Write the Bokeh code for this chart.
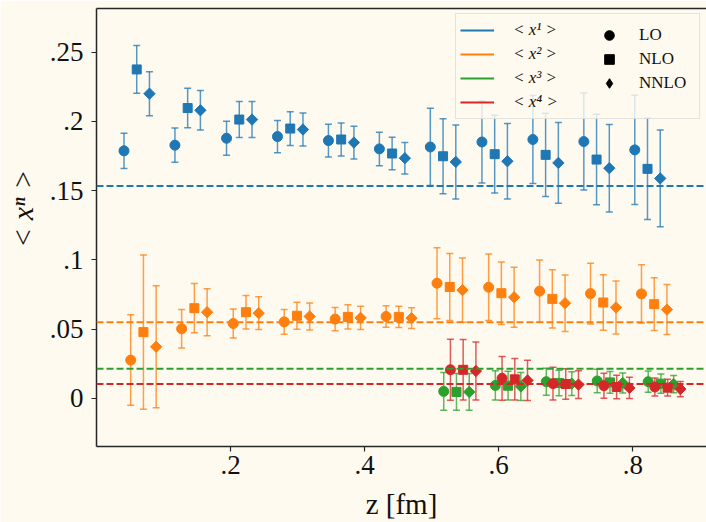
from bokeh.plotting import figure
from bokeh.models import (ColumnDataSource, Whisker, TeeHead, Span, Legend, LegendItem,
                          FixedTicker, LinearAxis, Range1d)
from bokeh.embed import file_html
from bokeh.resources import INLINE
import math

# separation z [fm] of the LO point of each group (first moment)
z_lo = [0.041, 0.117, 0.194, 0.270, 0.346, 0.422, 0.498, 0.575, 0.651, 0.727, 0.803]
# the third and fourth moments are only available from z ~ 0.5 fm
z_hi = z_lo[6:]

# <x^1>
x1_lo = [0.1788, 0.1829, 0.1879, 0.1891, 0.1862, 0.1802, 0.1816, 0.1852, 0.1870, 0.1855, 0.1795]
x1_lo_err = [0.0128, 0.0124, 0.0122, 0.0117, 0.0119, 0.0121, 0.0279, 0.0296, 0.0317, 0.0350, 0.0395]
x1_nlo = [0.2376, 0.2097, 0.2014, 0.1949, 0.1870, 0.1769, 0.1749, 0.1764, 0.1759, 0.1725, 0.1658]
x1_nlo_err = [0.0172, 0.0143, 0.0130, 0.0122, 0.0119, 0.0118, 0.0270, 0.0281, 0.0300, 0.0327, 0.0366]
x1_nnlo = [0.2201, 0.2081, 0.2014, 0.1942, 0.1848, 0.1735, 0.1708, 0.1713, 0.1701, 0.1663, 0.1589]
x1_nnlo_err = [0.0159, 0.0142, 0.0130, 0.0119, 0.0118, 0.0114, 0.0267, 0.0273, 0.0291, 0.0316, 0.0349]

# <x^2>
x2_lo = [0.0277, 0.0503, 0.0541, 0.0553, 0.0573, 0.0592, 0.0832, 0.0803, 0.0775, 0.0757, 0.0755]
x2_lo_err = [0.0327, 0.0139, 0.0105, 0.0090, 0.0084, 0.0077, 0.0256, 0.0240, 0.0224, 0.0220, 0.0211]
x2_nlo = [0.0479, 0.0652, 0.0623, 0.0597, 0.0589, 0.0589, 0.0805, 0.0760, 0.0719, 0.0693, 0.0681]
x2_nlo_err = [0.0557, 0.0178, 0.0121, 0.0098, 0.0088, 0.0077, 0.0242, 0.0226, 0.0211, 0.0200, 0.0190]
x2_nnlo = [0.0373, 0.0623, 0.0616, 0.0592, 0.0582, 0.0580, 0.0782, 0.0731, 0.0688, 0.0657, 0.0642]
x2_nnlo_err = [0.0440, 0.0170, 0.0118, 0.0097, 0.0084, 0.0075, 0.0232, 0.0217, 0.0204, 0.0192, 0.0180]

# <x^3>
x3_lo = [0.0051, 0.0094, 0.0121, 0.0126, 0.0121]
x3_lo_err = [0.0137, 0.0106, 0.0097, 0.0085, 0.0077]
x3_nlo = [0.0047, 0.0092, 0.0112, 0.0116, 0.0107]
x3_nlo_err = [0.0133, 0.0104, 0.0092, 0.0078, 0.0070]
x3_nnlo = [0.0047, 0.0087, 0.0107, 0.0112, 0.0104]
x3_nnlo_err = [0.0133, 0.0101, 0.0085, 0.0072, 0.0062]

# <x^4>
x4_lo = [0.0207, 0.0145, 0.0107, 0.0092, 0.0083]
x4_lo_err = [0.0220, 0.0158, 0.0118, 0.0090, 0.0065]
x4_nlo = [0.0207, 0.0138, 0.0104, 0.0083, 0.0078]
x4_nlo_err = [0.0218, 0.0150, 0.0110, 0.0085, 0.0060]
x4_nnlo = [0.0198, 0.0130, 0.0100, 0.0076, 0.0068]
x4_nnlo_err = [0.0210, 0.0145, 0.0100, 0.0077, 0.0055]

# reference values of the moments (dashed lines)
moment_ref = [0.1535, 0.0551, 0.0215, 0.0104]

moment_labels = ["< x\u00b9 >", "< x\u00b2 >", "< x\u00b3 >", "< x\u2074 >"]
order_labels = ["LO", "NLO", "NNLO"]
y_ticks = [0, 0.05, 0.1, 0.15, 0.2, 0.25]
y_tick_labels = ["0", ".05", ".1", ".15", ".2", ".25"]
x_ticks = [0.2, 0.4, 0.6, 0.8]
x_tick_labels = [".2", ".4", ".6", ".8"]

colors = ["#1f77b4", "#ff7f0e", "#2ca02c", "#d62728"]
bg = "#fffaf0"
ink = "#111111"
serif = "Liberation Serif"

# horizontal nudges so that the points of one z do not overlap
moment_shift = 0.010
order_shift = 0.019

series = [
    (z_lo, [(x1_lo, x1_lo_err), (x1_nlo, x1_nlo_err), (x1_nnlo, x1_nnlo_err)]),
    (z_lo, [(x2_lo, x2_lo_err), (x2_nlo, x2_nlo_err), (x2_nnlo, x2_nnlo_err)]),
    (z_hi, [(x3_lo, x3_lo_err), (x3_nlo, x3_nlo_err), (x3_nnlo, x3_nnlo_err)]),
    (z_hi, [(x4_lo, x4_lo_err), (x4_nlo, x4_nlo_err), (x4_nnlo, x4_nnlo_err)]),
]
markers = [("circle", 10, 0.0), ("square", 9, 0.0), ("square", 8, math.pi / 4)]
legend_markers = ["circle", "square", "diamond"]

p = figure(width=706, height=522, x_range=Range1d(0, 0.91), y_range=Range1d(-0.0347, 0.2816),
           output_backend="svg", toolbar_location=None,
           min_border_left=96, min_border_right=0, min_border_top=8, min_border_bottom=75,
           background_fill_color=bg, border_fill_color=bg)
p.outline_line_color = None
p.xgrid.visible = False
p.ygrid.visible = False

for n, (zs, orders) in enumerate(series):
    col = colors[n]
    for k, (vals, errs) in enumerate(orders):
        xs = [z + moment_shift * n + order_shift * k for z in zs]
        src = ColumnDataSource(dict(x=xs, y=vals,
                                    lo=[v - e for v, e in zip(vals, errs)],
                                    hi=[v + e for v, e in zip(vals, errs)]))
        head = dict(size=7, line_color=col, line_alpha=0.75, line_width=1.5)
        p.add_layout(Whisker(source=src, base="x", lower="lo", upper="hi", dimension="height",
                             line_color=col, line_alpha=0.75, line_width=1.5,
                             upper_head=TeeHead(**head), lower_head=TeeHead(**head)))
        mk, sz, ang = markers[k]
        p.scatter("x", "y", source=src, marker=mk, size=sz, angle=ang,
                  fill_color=col, line_color=col)

for lvl, col in zip(moment_ref, colors):
    p.add_layout(Span(location=lvl, dimension="width", line_color=col,
                      line_dash="7 3", line_width=2))

# axes
for ax in (p.xaxis[0], p.yaxis[0]):
    ax.axis_line_color = "#262626"
    ax.axis_line_width = 1.5
    ax.major_tick_line_color = "#262626"
    ax.major_tick_line_width = 1.2
    ax.major_tick_out = 5
    ax.major_tick_in = 0
    ax.minor_tick_line_color = None
    ax.major_label_text_font = serif
    ax.major_label_text_font_size = "27px"
    ax.major_label_text_color = ink
    ax.axis_label_text_font = serif
    ax.axis_label_text_color = ink

p.yaxis.ticker = FixedTicker(ticks=y_ticks)
p.yaxis.major_label_overrides = dict(zip(y_ticks, y_tick_labels))
p.yaxis.major_label_standoff = 8
# leading no-break spaces lift the centred title a little along the axis
p.yaxis.axis_label = "\u00a0" * 5 + "< x\u207f >"
p.yaxis.axis_label_text_font_size = "30px"
p.yaxis.axis_label_text_font_style = "italic"
p.yaxis.axis_label_standoff = 8

p.xaxis.ticker = FixedTicker(ticks=x_ticks)
p.xaxis.major_label_overrides = dict(zip(x_ticks, x_tick_labels))
p.xaxis.major_label_standoff = 4
p.xaxis.axis_label = "z [fm]"
p.xaxis.axis_label_text_font_size = "29px"
p.xaxis.axis_label_text_font_style = "normal"
p.xaxis.axis_label_standoff = 11

# top spine
top = LinearAxis(ticker=FixedTicker(ticks=[]), axis_line_color="#262626", axis_line_width=1.5,
                 major_tick_out=0, major_tick_in=0, minor_tick_line_color=None,
                 major_label_text_font_size="0px")
p.add_layout(top, "above")

# legend keys (placed outside the visible ranges)
line_rs = [p.line(x=[-1, -2], y=[-1, -1], line_color=c, line_width=2) for c in colors]
mark_rs = [p.scatter(x=[-1], y=[-1], marker=mk, size=9, color="black") for mk in legend_markers]

common = dict(glyph_height=24, label_height=24, spacing=0, padding=4,
              label_text_font=serif, label_text_font_size="17px", label_text_color=ink)
leg_moments = Legend(items=[LegendItem(label=l, renderers=[r]) for l, r in zip(moment_labels, line_rs)],
                     location=(359, 327), glyph_width=34, label_standoff=19, label_width=182,
                     background_fill_color=bg, background_fill_alpha=0.8,
                     border_line_color="#cccccc", border_line_width=1.5,
                     label_text_font_style="italic", **common)
leg_orders = Legend(items=[LegendItem(label=l, renderers=[r]) for l, r in zip(order_labels, mark_rs)],
                    location=(501, 351), glyph_width=24, label_standoff=18,
                    background_fill_alpha=0, border_line_color=None, **common)
p.add_layout(leg_moments)
p.add_layout(leg_orders)

open("out.html", "w").write(file_html(p, INLINE))
